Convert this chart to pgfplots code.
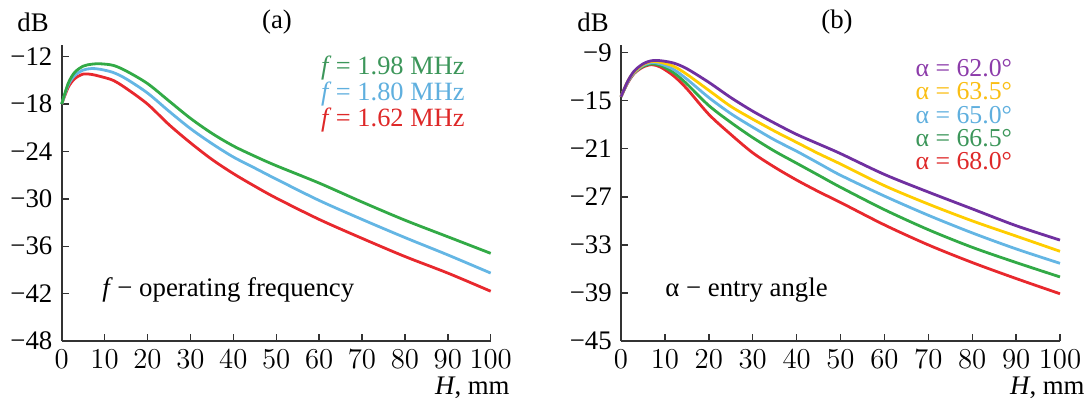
\documentclass[border=0pt]{standalone}
\usepackage{fontspec}
\setmainfont{Liberation Serif}
\usepackage{pgfplots}
\usepackage{pgfplotstable}
\pgfplotsset{compat=1.18}

\definecolor{cgreen}{RGB}{50,170,70}
\definecolor{cblue}{RGB}{100,182,228}
\definecolor{cred}{RGB}{232,40,45}
\definecolor{cpurple}{RGB}{112,48,160}
\definecolor{cyellow}{RGB}{255,205,0}
\definecolor{tgreen}{RGB}{60,150,90}
\definecolor{tblue}{RGB}{95,175,222}
\definecolor{tred}{RGB}{222,40,40}
\definecolor{tpurple}{RGB}{140,60,170}
\definecolor{tyellow}{RGB}{250,190,20}

% panel (a): H  f=1.98  f=1.80  f=1.62
\pgfplotstableread{
H    g     b     r
0    -18.0 -18.0 -18.0
1.5  -15.4 -15.6 -15.9
3    -14.0 -14.4 -14.8
5    -13.2 -13.7 -14.2
7    -12.95 -13.5 -14.25
9    -12.9 -13.6 -14.5
12   -13.1 -14.0 -15.0
15   -13.8 -14.8 -16.0
20   -15.4 -16.6 -18.0
25   -17.6 -18.9 -20.6
30   -19.8 -21.1 -22.9
35   -21.7 -23.0 -25.0
40   -23.3 -24.7 -26.8
45   -24.6 -26.1 -28.4
50   -25.8 -27.5 -29.9
60   -28.0 -30.2 -32.6
70   -30.4 -32.6 -35.0
80   -32.7 -34.9 -37.3
90   -34.8 -37.1 -39.4
100  -36.9 -39.4 -41.7
}\tablea

% panel (b): H  62.0  63.5  65.0  66.5  68.0
\pgfplotstableread{
H    p     y     b     g     r
0    -14.5 -14.5 -14.5 -14.5 -14.5
1.5  -12.6 -12.6 -12.7 -12.7 -12.8
3    -11.3 -11.4 -11.5 -11.5 -11.6
5    -10.4 -10.5 -10.6 -10.7 -10.8
7    -10.0 -10.1 -10.25 -10.4 -10.5
9    -10.0 -10.2 -10.4 -10.6 -10.8
12   -10.3 -10.7 -11.1 -11.5 -11.9
15   -11.0 -11.7 -12.3 -12.9 -13.5
20   -12.7 -13.7 -14.6 -15.6 -16.7
25   -14.6 -15.7 -16.6 -17.7 -19.2
30   -16.3 -17.3 -18.3 -19.6 -21.5
35   -17.8 -18.8 -19.9 -21.3 -23.3
40   -19.2 -20.2 -21.3 -22.8 -24.9
45   -20.4 -21.6 -22.8 -24.3 -26.35
50   -21.6 -22.9 -24.3 -25.8 -27.7
60   -24.2 -25.6 -26.9 -28.6 -30.5
70   -26.4 -27.9 -29.3 -31.1 -33.0
80   -28.5 -30.0 -31.5 -33.3 -35.2
90   -30.6 -31.9 -33.5 -35.2 -37.2
100  -32.4 -33.8 -35.3 -37.0 -39.1
}\tableb

\pgfplotsset{
  panel/.style={
    scale only axis,
    height=148pt,
    anchor=south west,
    axis lines=left,
    axis line style={-, draw=black!80, line width=0.8pt},
    tick align=inside,
    major tick length=3.5pt,
    tick style={black!80, line width=0.7pt},
    xmin=0, xmax=100,
    xtick={0,10,...,100},
    every axis plot/.append style={line width=1.4pt, smooth, no markers},
    clip=false,
  }
}

\begin{document}
\fontsize{13.4}{15.5}\selectfont
\begin{tikzpicture}
\path[use as bounding box] (0,0) rectangle (544.5pt,204pt);

\begin{axis}[panel,
  at={(30.85pt,33.5pt)}, width=214.5pt,
  ymin=-48, ymax=-10.52,
  ytick={-48,-42,-36,-30,-24,-18,-12},
  yticklabels={−48,−42,−36,−30,−24,−18,−12},
]
\addplot[cred]   table[x=H, y=r] {\tablea};
\addplot[cblue]  table[x=H, y=b] {\tablea};
\addplot[cgreen] table[x=H, y=g] {\tablea};
\node[anchor=west, inner sep=0, align=left, font=\fontsize{13.2}{11.6}\selectfont]
  at (axis cs:60.4,-16.7)
  {{\color{tgreen}\textit{f}\,= 1.98 MHz}\\
   {\color{tblue}\textit{f}\,= 1.80 MHz}\\
   {\color{tred}\textit{f}\,= 1.62 MHz}};
\node[anchor=west, inner sep=0] at (axis cs:9.4,-41.5) {\textit{f}\,− operating frequency};
\end{axis}

\begin{axis}[panel,
  at={(310.5pt,33.5pt)}, width=219.5pt,
  ymin=-45, ymax=-8.04,
  ytick={-45,-39,-33,-27,-21,-15,-9},
  yticklabels={−45,−39,−33,−27,−21,−15,−9},
]
\addplot[cred]    table[x=H, y=r] {\tableb};
\addplot[cgreen]  table[x=H, y=g] {\tableb};
\addplot[cblue]   table[x=H, y=b] {\tableb};
\addplot[cyellow] table[x=H, y=y] {\tableb};
\addplot[cpurple] table[x=H, y=p] {\tableb};
\node[anchor=west, inner sep=0, align=left, font=\fontsize{12.9}{11.7}\selectfont]
  at (axis cs:67,-16.75)
  {{\color{tpurple}α = 62.0°}\\
   {\color{tyellow}α = 63.5°}\\
   {\color{tblue}α = 65.0°}\\
   {\color{tgreen}α = 66.5°}\\
   {\color{tred}α = 68.0°}};
\node[anchor=west, inner sep=0] at (axis cs:10,-38.7) {α − entry angle};
\end{axis}

\node at (16.5pt,193pt) {dB};
\node at (138.5pt,193pt) {(a)};
\node at (296.5pt,193pt) {dB};
\node at (418.5pt,193pt) {(b)};
\node[anchor=east, inner sep=0] at (255pt,10pt) {\textit{H}, mm};
\node[anchor=east, inner sep=0] at (542.5pt,10pt) {\textit{H}, mm};
\end{tikzpicture}
\end{document}
